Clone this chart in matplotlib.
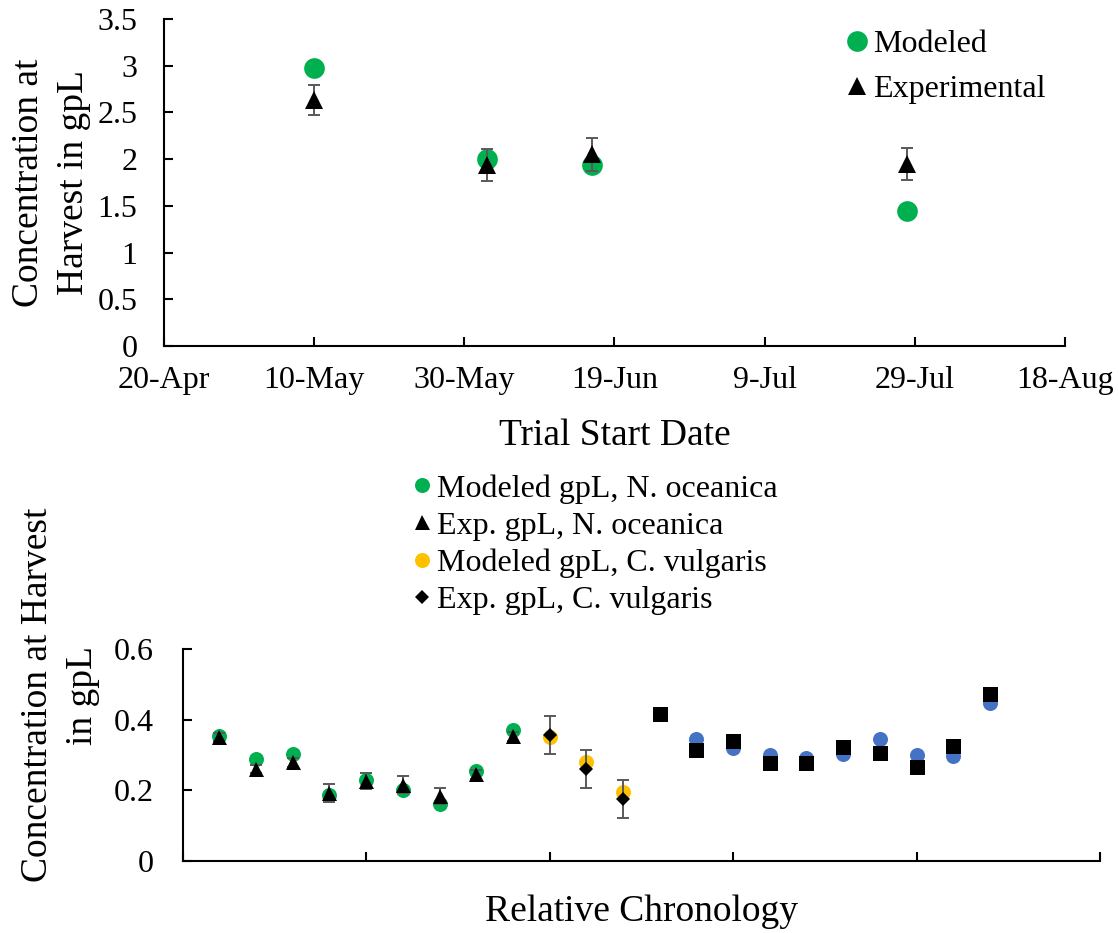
import numpy as np
import pandas as pd
import matplotlib
matplotlib.use("Agg")
import matplotlib.pyplot as plt

plt.rcParams['font.family'] = ['Liberation Serif', 'DejaVu Serif']

# --- top panel: single-species trials by start date ---
trial_dates = pd.to_datetime(['2019-05-10', '2019-06-02', '2019-06-16', '2019-07-28'])
modeled_gpl = [2.98, 2.00, 1.94, 1.45]
exp_gpl = [2.63, 1.94, 2.05, 1.95]
exp_err = [0.16, 0.17, 0.18, 0.17]
date_ticks = pd.date_range('2019-04-20', periods=7, freq='20D')

# --- bottom panel: trials in relative chronological order ---
noc_idx = [1, 2, 3, 4, 5, 6, 7, 8, 9]
noc_model = [0.353, 0.289, 0.304, 0.186, 0.230, 0.200, 0.162, 0.256, 0.372]
noc_exp = [0.351, 0.260, 0.279, 0.193, 0.226, 0.216, 0.185, 0.245, 0.353]
noc_err = [0.012, 0.012, 0.012, 0.025, 0.022, 0.024, 0.023, 0.012, 0.012]

cv_idx = [10, 11, 12]
cv_model = [0.351, 0.279, 0.195]
cv_exp = [0.357, 0.260, 0.175]
cv_err = [0.053, 0.053, 0.053]

other_idx = [13, 14, 15, 16, 17, 18, 19, 20, 21, 22]
other_model = [0.415, 0.344, 0.321, 0.299, 0.291, 0.304, 0.344, 0.300, 0.296, 0.448]
other_exp = [0.417, 0.314, 0.339, 0.277, 0.278, 0.324, 0.305, 0.266, 0.325, 0.472]

GREEN = '#00B050'
YELLOW = '#FFC000'
BLUE = '#4472C4'
ERRCOL = '#595959'

fig = plt.figure(figsize=(11.19, 9.33), dpi=100)
ax1 = fig.add_axes([164/1119, 1 - 346/933, (1065 - 164)/1119, (346 - 19)/933])
ax2 = fig.add_axes([182.7/1119, 1 - 861/933, (1100 - 182.7)/1119, (861 - 649)/933])

for ax in (ax1, ax2):
    ax.spines['top'].set_visible(False)
    ax.spines['right'].set_visible(False)
    ax.spines['left'].set_linewidth(1.5)
    ax.spines['bottom'].set_linewidth(1.5)
    ax.tick_params(direction='in', length=6.5, width=1.5, labelsize=23)

# top chart
ax1.plot(trial_dates, modeled_gpl, 'o', color=GREEN, ms=14.9, mew=0, label='Modeled', zorder=2)
ax1.errorbar(trial_dates, exp_gpl, yerr=exp_err, fmt='none', ecolor=ERRCOL,
             elinewidth=1.4, capsize=4.3, capthick=1.4, zorder=3)
ax1.plot(trial_dates, exp_gpl, '^', color='black', ms=12.7, mew=0, label='Experimental', zorder=4)
ax1.set_xlim(date_ticks[0], date_ticks[-1])
ax1.set_xticks(date_ticks)
ax1.set_xticklabels([f"{d.day}-{d.strftime('%b')}" for d in date_ticks])
ax1.set_ylim(0, 3.5)
ax1.set_yticks(np.arange(0, 3.51, 0.5))
ax1.set_yticklabels(['0', '0.5', '1', '1.5', '2', '2.5', '3', '3.5'])
ax1.tick_params(axis='x', pad=14.5)
ax1.tick_params(axis='y', pad=19)
ax1.set_xlabel('Trial Start Date', fontsize=27)
ax1.xaxis.set_label_coords(0.5, -0.223)
ax1.set_ylabel('Concentration at\nHarvest in gpL', fontsize=27, va='center', linespacing=1.4)
ax1.yaxis.set_label_coords(-0.1254, 0.5)
ax1.legend(loc='upper left', bbox_to_anchor=(846/1119, 1 - 30/933), bbox_transform=fig.transFigure,
           frameon=False, fontsize=23, handlelength=0.7, handletextpad=0.15,
           borderpad=0, borderaxespad=0, labelspacing=0.48, numpoints=1)

# bottom chart
ax2.plot(noc_idx, noc_model, 'o', color=GREEN, ms=10.8, mew=0, label='Modeled gpL, N. oceanica', zorder=2)
ax2.errorbar(noc_idx, noc_exp, yerr=noc_err, fmt='none', ecolor=ERRCOL,
             elinewidth=1.4, capsize=4.3, capthick=1.4, zorder=3)
ax2.plot(noc_idx, noc_exp, '^', color='black', ms=10.8, mew=0, label='Exp. gpL, N. oceanica', zorder=4)
ax2.plot(cv_idx, cv_model, 'o', color=YELLOW, ms=10.8, mew=0, label='Modeled gpL, C. vulgaris', zorder=2)
ax2.errorbar(cv_idx, cv_exp, yerr=cv_err, fmt='none', ecolor=ERRCOL,
             elinewidth=1.4, capsize=4.3, capthick=1.4, zorder=3)
ax2.plot(cv_idx, cv_exp, 'D', color='black', ms=7.5, mew=0, label='Exp. gpL, C. vulgaris', zorder=4)
ax2.plot(other_idx, other_model, 'o', color=BLUE, ms=10.8, mew=0, zorder=2)
ax2.plot(other_idx, other_exp, 's', color='black', ms=10.8, mew=0, zorder=4)
ax2.set_xlim(0, 25)
ax2.set_xticks(range(0, 26, 5))
ax2.set_xticklabels([])
ax2.set_ylim(0, 0.6)
ax2.set_yticks([0, 0.2, 0.4, 0.6])
ax2.set_yticklabels(['0', '0.2', '0.4', '0.6'])
ax2.tick_params(axis='y', pad=21)
ax2.set_xlabel('Relative Chronology', fontsize=27)
ax2.xaxis.set_label_coords(0.5, -0.16)
ax2.set_ylabel('Concentration at Harvest\nin gpL', fontsize=27, va='center', linespacing=1.4)
ax2.yaxis.set_label_coords(-0.1338, 0.783)
ax2.legend(loc='upper left', bbox_to_anchor=(415/1119, 1 - 474/933), bbox_transform=fig.transFigure,
           frameon=False, fontsize=23, handlelength=0.45, handletextpad=0.24,
           borderpad=0, borderaxespad=0, labelspacing=0.24, numpoints=1)

fig.savefig('out.png', dpi=100)
